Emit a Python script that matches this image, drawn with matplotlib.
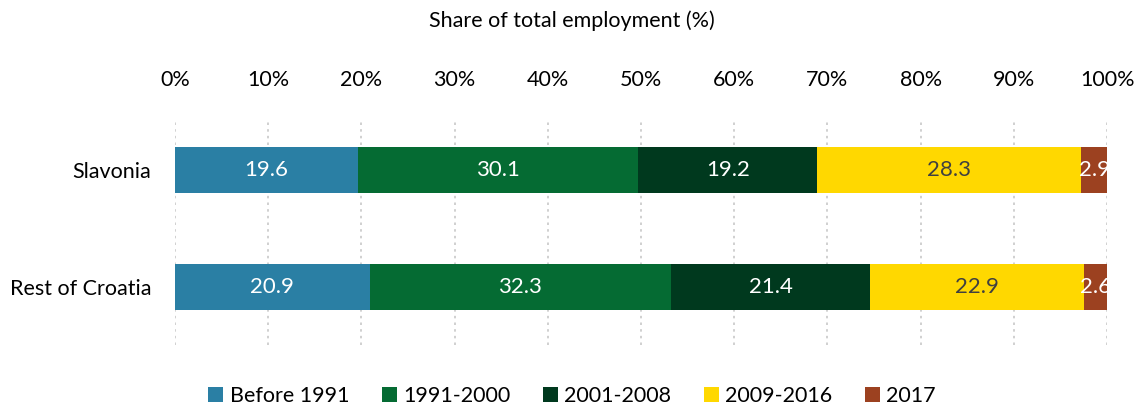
import matplotlib.pyplot as plt
import numpy as np

plt.rcParams['font.family'] = ['Lato', 'DejaVu Sans']

regions = ['Slavonia', 'Rest of Croatia']
periods = ['Before 1991', '1991-2000', '2001-2008', '2009-2016', '2017']
shares = {
    'Before 1991': [19.6, 20.9],
    '1991-2000': [30.1, 32.3],
    '2001-2008': [19.2, 21.4],
    '2009-2016': [28.3, 22.9],
    '2017': [2.9, 2.6],
}
colors = ['#2a7fa4', '#056b33', '#00391e', '#ffd800', '#9c4120']
text_colors = ['white', 'white', 'white', '#404040', 'white']

fig = plt.figure(figsize=(11.44, 4.07), dpi=100)
ax = fig.add_axes([0.153, 0.152, 0.8147, 0.553])

y = np.arange(len(regions))
left = np.zeros(len(regions))
for p, c, tc in zip(periods, colors, text_colors):
    vals = np.array(shares[p])
    bars = ax.barh(y, vals, left=left, height=0.39, color=c, label=p, zorder=3)
    ax.bar_label(bars, labels=[f'{v:.1f}' for v in vals], label_type='center',
                 color=tc, fontsize=16)
    left += vals

ax.set_xlim(0, 100)
ax.set_ylim(1.496, -0.427)
ax.set_yticks(y)
ax.set_yticklabels(regions, fontsize=15.5)
ax.set_xticks(np.arange(0, 101, 10))
ax.set_xticklabels([f'{t}%' for t in range(0, 101, 10)], fontsize=15.5)
ax.xaxis.tick_top()
ax.tick_params(axis='x', length=0, pad=22)
ax.tick_params(axis='y', length=0, pad=17)
ax.xaxis.grid(True, linestyle=(0, (1.5, 2.5)), color='#c8c8c8', linewidth=1.2, zorder=0)
for s in ax.spines.values():
    s.set_visible(False)

fig.text(0.5, 0.95, 'Share of total employment (%)', ha='center', va='center', fontsize=15.5)

fig.legend(loc='lower center', ncol=5, frameon=False, fontsize=15.5,
           handlelength=0.7, handleheight=0.7, handletextpad=0.3,
           columnspacing=1.5, bbox_to_anchor=(0.5, -0.045))

fig.savefig('out.png', dpi=100)
